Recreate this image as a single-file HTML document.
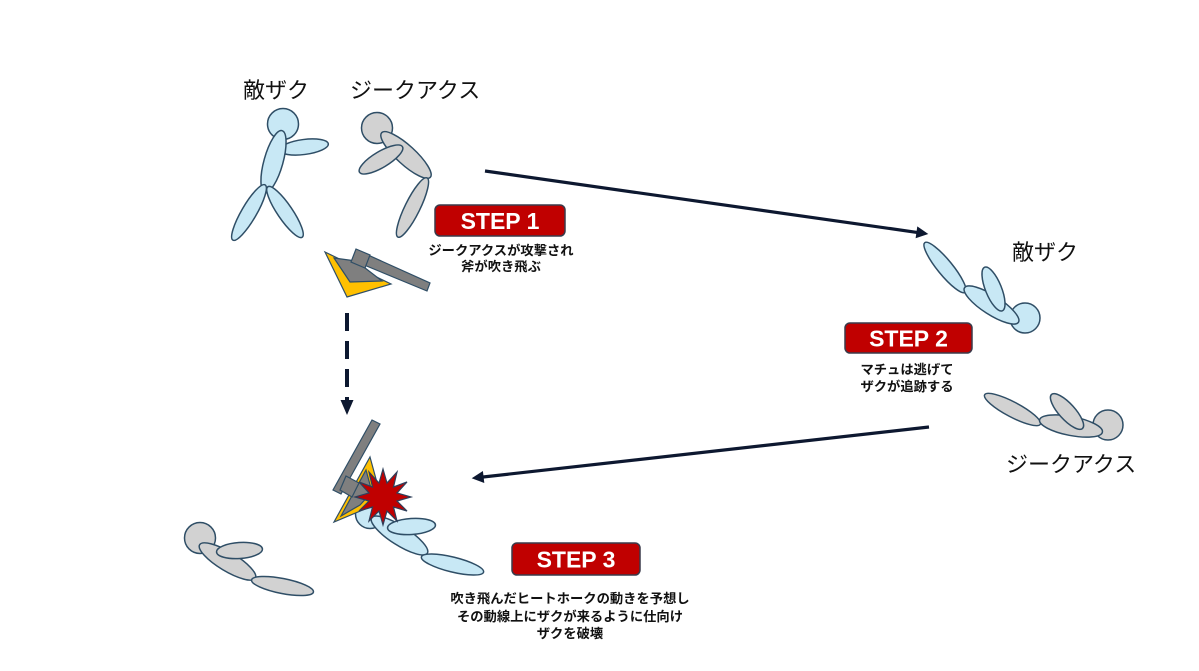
<!DOCTYPE html>
<html><head><meta charset="utf-8"><style>
html,body{margin:0;padding:0;background:#fff;}
svg{display:block;}
.lbl{font-family:"Liberation Sans","Noto Sans CJK JP",sans-serif;font-size:22px;fill:#111;}
.cap{font-family:"Liberation Sans","Noto Sans CJK JP",sans-serif;font-size:13.3px;font-weight:bold;fill:#111;}
.st{font-family:"Liberation Sans",sans-serif;font-size:23px;font-weight:bold;fill:#fff;}
.b{fill:#c8e8f5;stroke:#2f4e66;stroke-width:1.5;}
.g{fill:#d2d2d2;stroke:#2f4e66;stroke-width:1.5;}
.ax{fill:#7f7f7f;stroke:#2f4e66;stroke-width:1.2;}
.ye{fill:#ffc000;stroke:#2f4e66;stroke-width:1.2;}
.box{fill:#c00000;stroke:#3a3a4a;stroke-width:1.5;}
</style></head><body>
<svg width="1199" height="671" viewBox="0 0 1199 671" xmlns="http://www.w3.org/2000/svg">
<rect width="1199" height="671" fill="#fff"/>

<!-- top labels -->
<text class="lbl" x="243" y="98">敵ザク</text>
<text class="lbl" x="350" y="98">ジークアクス</text>

<!-- top-left enemy zaku -->
<circle class="b" cx="283" cy="124" r="15.5"/>
<ellipse class="b" cx="304" cy="147" rx="24.5" ry="7.5" transform="rotate(-7.3 304 147)"/>
<ellipse class="b" cx="273.5" cy="161.5" rx="32" ry="9.5" transform="rotate(105.6 273.5 161.5)"/>
<ellipse class="b" cx="249" cy="212.5" rx="32" ry="7.5" transform="rotate(120.2 249 212.5)"/>
<ellipse class="b" cx="285" cy="212" rx="30.5" ry="7.5" transform="rotate(55.8 285 212)"/>

<!-- top zeke axe -->
<circle class="g" cx="377" cy="128" r="15.5"/>
<ellipse class="g" cx="406" cy="155" rx="33" ry="9.5" transform="rotate(42.5 406 155)"/>
<ellipse class="g" cx="381" cy="159.5" rx="25" ry="8" transform="rotate(-30.8 381 159.5)"/>
<ellipse class="g" cx="412.5" cy="207.5" rx="33" ry="7.5" transform="rotate(116.2 412.5 207.5)"/>

<!-- top axe -->
<polygon class="ye" points="325,252 347,297 391,284"/>
<polygon class="ax" points="334,258 356,261 382,281 350,282"/>
<polygon class="ax" points="357,250 430,283 427,291 352,260"/>
<polygon class="ax" points="356,249 370,255 365,268 351,262"/>

<!-- STEP 1 -->
<rect class="box" x="435" y="205" width="130" height="31" rx="5"/>
<text class="st" x="500" y="229" text-anchor="middle">STEP 1</text>
<text class="cap" x="501" y="255" text-anchor="middle">ジークアクスが攻撃され</text>
<text class="cap" x="501" y="271" text-anchor="middle">斧が吹き飛ぶ</text>

<!-- top arrow -->
<line x1="485" y1="171" x2="917" y2="232.4" stroke="#0d1830" stroke-width="3.2"/>
<polygon points="928.3,234 917.3,226.4 915.6,238.2" fill="#0d1830"/>

<!-- dashed arrow -->
<line x1="347" y1="313" x2="347" y2="400" stroke="#0d1830" stroke-width="4" stroke-dasharray="18,10"/>
<polygon points="340.5,400 353.5,400 347,415" fill="#0d1830"/>

<!-- right enemy zaku -->
<text class="lbl" x="1012" y="260">敵ザク</text>
<circle class="b" cx="1025" cy="318" r="15"/>
<ellipse class="b" cx="945" cy="267.5" rx="32" ry="7.5" transform="rotate(50.8 945 267.5)"/>
<ellipse class="b" cx="991.5" cy="305" rx="32" ry="9.5" transform="rotate(32.7 991.5 305)"/>
<ellipse class="b" cx="993.5" cy="289" rx="23.5" ry="8" transform="rotate(68 993.5 289)"/>

<!-- STEP 2 -->
<rect class="box" x="845" y="323" width="127" height="30" rx="5"/>
<text class="st" x="908.5" y="346.5" text-anchor="middle">STEP 2</text>
<text class="cap" x="907" y="374" text-anchor="middle">マチュは逃げて</text>
<text class="cap" x="907" y="391" text-anchor="middle">ザクが追跡する</text>

<!-- right zeke -->
<circle class="g" cx="1108" cy="425" r="15"/>
<ellipse class="g" cx="1012.5" cy="409.5" rx="31.5" ry="7.5" transform="rotate(27.8 1012.5 409.5)"/>
<ellipse class="g" cx="1071" cy="426" rx="32" ry="9.5" transform="rotate(11 1071 426)"/>
<ellipse class="g" cx="1067" cy="411.5" rx="23" ry="8" transform="rotate(47.7 1067 411.5)"/>
<text class="lbl" x="1006" y="472">ジークアクス</text>

<!-- bottom arrow -->
<line x1="929" y1="427" x2="483" y2="477" stroke="#0d1830" stroke-width="3.2"/>
<polygon points="471.7,478.3 482.9,471 484.3,483" fill="#0d1830"/>

<!-- bottom-left zeke -->
<circle class="g" cx="200" cy="538" r="15.5"/>
<ellipse class="g" cx="227.5" cy="561.5" rx="32.5" ry="9.5" transform="rotate(31 227.5 561.5)"/>
<ellipse class="g" cx="239.5" cy="550.5" rx="23" ry="8" transform="rotate(-3.8 239.5 550.5)"/>
<ellipse class="g" cx="282.5" cy="586" rx="31.5" ry="7.5" transform="rotate(11.1 282.5 586)"/>

<!-- bottom enemy zaku -->
<circle class="b" cx="370" cy="514" r="14.5"/>
<ellipse class="b" cx="399.5" cy="535.5" rx="33" ry="9.5" transform="rotate(32.5 399.5 535.5)"/>
<ellipse class="b" cx="452.5" cy="564.5" rx="32" ry="7.5" transform="rotate(13.8 452.5 564.5)"/>
<ellipse class="b" cx="411.5" cy="526.5" rx="24" ry="8" transform="rotate(-3.7 411.5 526.5)"/>

<!-- bottom axe -->
<polygon class="ye" points="370,457 379,490 365,509 334,522"/>
<polygon class="ax" points="366,470 372,492 360,505 341,516"/>
<polygon class="ax" points="372,420 380,424 341,494 333,490"/>
<polygon class="ax" points="346,476 359,483 352,497 340,490"/>

<!-- explosion -->
<polygon fill="#c00000" stroke="#2f3f5a" stroke-width="1.2" points="383,469 387,483 397,472 393.5,487 407,482 397,493 411,497 397,501 407,511 393.5,507 397,521 387,511 383,525 379,511 369,521 372.5,507 359,511 369,501 355,497 369,493 359,482 372.5,487 369,472 379,483"/>

<!-- STEP 3 -->
<rect class="box" x="512" y="543" width="128" height="32" rx="5"/>
<text class="st" x="576" y="567.5" text-anchor="middle">STEP 3</text>
<text class="cap" x="570" y="603" text-anchor="middle">吹き飛んだヒートホークの動きを予想し</text>
<text class="cap" x="570" y="621" text-anchor="middle">その動線上にザクが来るように仕向け</text>
<text class="cap" x="570" y="638" text-anchor="middle">ザクを破壊</text>
</svg>
</body></html>
